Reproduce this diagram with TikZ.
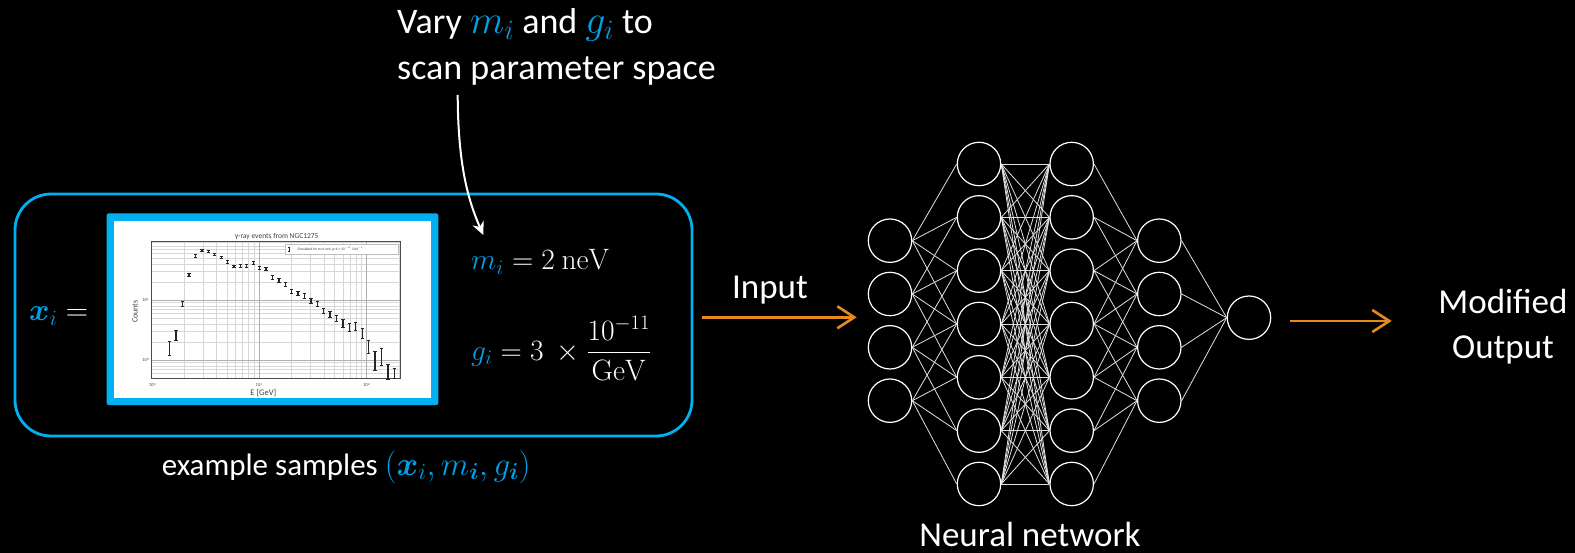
\RequirePackage{fix-cm}
\documentclass[tikz,border=0pt]{standalone}
\usepackage{amsmath}
\usepackage[no-math]{fontspec}
\setmainfont{Carlito}
\usetikzlibrary{arrows.meta}
\definecolor{pblue}{RGB}{0,176,240}
\definecolor{mblue}{RGB}{0,160,230}
\definecolor{porange}{RGB}{232,137,30}
\definecolor{gridminor}{RGB}{215,215,215}
\definecolor{gridmajor}{RGB}{175,175,175}
\begin{document}
\begin{tikzpicture}[x=1pt,y=-1pt,
  txt/.style={text=white, inner sep=0pt},
  big/.style={font=\fontsize{35}{42}\selectfont},
  neuron/.style={circle, draw=white, line width=1.2pt, minimum size=43.4pt, inner sep=0pt},
  syn/.style={draw=white!88!black, line width=0.8pt},
  orarrow/.style={draw=porange, line width=2.6pt, -{Straight Barb[length=17pt,width=22pt]}},
  tiny/.style={text=black!75, inner sep=0pt},
  ebar/.style={draw=black!85, line width=1.2pt},
]
\fill[black] (0,0) rectangle (1575,553);
\useasboundingbox (0,0) rectangle (1575,553);

% sample box
\node[draw=pblue, line width=2.8pt, rounded corners=36pt, minimum width=677pt, minimum height=242pt, inner sep=0pt] (box) at (353.5,315) {};
\node[fill=pblue, rounded corners=2pt, minimum width=331.6pt, minimum height=191.7pt, inner sep=0pt] (plotframe) at (272.5,309.2) {};
\node[fill=white, minimum width=317pt, minimum height=176pt, inner sep=0pt] (plotarea) at (272.5,309.5) {};

% plot
\begin{scope}[shift={(100,205)}, scale=1/3]
  \foreach \d in {0,1,2}{
    \foreach \k in {1,...,9}{
      \pgfmathsetmacro\xx{155+322.5*(\d+log10(\k))}
      \ifdim\xx pt<899pt
        \draw[gridminor, line width=0.5pt] (\xx,110) -- (\xx,520);
      \fi
    }
  }
  \foreach \d in {-1,0,1}{
    \foreach \k in {1,...,9}{
      \pgfmathsetmacro\yy{465-180*(\d+log10(\k))}
      \ifdim\yy pt<520pt \ifdim\yy pt>111pt
        \draw[gridminor, line width=0.5pt] (155,\yy) -- (900,\yy);
      \fi\fi
    }
  }
  \foreach \xx in {478,800} \draw[gridmajor, line width=0.6pt] (\xx,110) -- (\xx,520);
  \foreach \yy in {285,465} \draw[gridmajor, line width=0.6pt] (155,\yy) -- (900,\yy);
  \draw[black!70, line width=0.5pt] (155,110) rectangle (900,520);
  \foreach \x/\y/\h in {208/430/20, 228/392/15, 248/296/8, 267/209/5, 287/153/4, 306/136/3,
      325/140/3, 344/147/3, 364/158/3, 383/170/4, 402/184/4, 421/182/4, 440/183/4, 460/173/4,
      479/188/4, 498/191/4, 517/217/5, 537/226/5, 556/237/6, 575/258/6, 594/265/7, 614/272/7,
      633/287/8, 652/296/8, 671/318/8, 690/327/9, 709/340/10, 729/355/11, 748/367/12, 767/365/12,
      787/385/14, 806/425/20, 825/468/28, 844/455/25, 864/500/22, 883/505/15}{
    \draw[ebar] (\x,{\y-\h}) -- (\x,{\y+\h});
    \draw[ebar, line width=0.9pt] ({\x-5},{\y-\h}) -- ({\x+5},{\y-\h});
    \draw[ebar, line width=0.9pt] ({\x-5},{\y+\h}) -- ({\x+5},{\y+\h});
  }
  \node[tiny, font=\fontsize{7.5}{8}\selectfont] (ptitle) at (530,95) {γ-ray events from NGC1275};
  \node[tiny, font=\fontsize{8}{9}\selectfont, rotate=90] (pylab) at (105,320) {Counts};
  \node[tiny, font=\fontsize{8.5}{9}\selectfont] (pxlab) at (490,565) {E [GeV]};
  \node[tiny, font=\fontsize{4.5}{5}\selectfont] (xt0) at (158,540) {10$^{0}$};
  \node[tiny, font=\fontsize{4.5}{5}\selectfont] (xt1) at (478,540) {10$^{1}$};
  \node[tiny, font=\fontsize{4.5}{5}\selectfont] (xt2) at (800,540) {10$^{2}$};
  \node[tiny, font=\fontsize{4.5}{5}\selectfont] (yt1) at (138,285) {10$^{1}$};
  \node[tiny, font=\fontsize{4.5}{5}\selectfont] (yt0) at (138,465) {10$^{0}$};
  \draw[gray!50, line width=0.4pt, fill=white] (555,118) rectangle (895,147);
  \draw[ebar, line width=0.8pt] (568,126) -- (568,138) (565,126) -- (571,126) (565,138) -- (571,138);
  \node[tiny, anchor=west, font=\fontsize{3.6}{4}\selectfont] (plegend) at (592,132) {Simulated for m=6 neV, g=6 × 10$^{-11}$ GeV$^{-1}$};
\end{scope}

% formulas
\node[txt, anchor=base west, font=\fontsize{31}{36}\selectfont] (xi) at (29,321) {${\color{mblue}\boldsymbol{x}_i} =$};
\node[txt, anchor=base west, font=\fontsize{29.5}{34}\selectfont] (mi) at (471,270) {${\color{mblue}m_i} = 2\ \mathrm{neV}$};
\node[txt, anchor=base west, font=\fontsize{29.5}{34}\selectfont] (gi) at (471,360) {${\color{mblue}g_i} = 3\ \times\dfrac{10^{-11}}{\mathrm{GeV}}$};
\node[txt, anchor=base west, font=\fontsize{31}{36}\selectfont] (ex) at (161.7,475) {example samples {\color{mblue}\fontsize{33}{36}\selectfont$(\boldsymbol{x}_i, m_{\boldsymbol{i}}, g_{\boldsymbol{i}})$}};

% top text and curved arrow
\node[txt, anchor=base west, font=\fontsize{36}{44}\selectfont] (top1) at (397,33.3) {Vary {\fontsize{40}{44}\selectfont$\color{mblue}m_i$} and {\fontsize{40}{44}\selectfont$\color{mblue}g_i$} to};
\node[txt, anchor=base west, font=\fontsize{36}{44}\selectfont] (top2) at (397,80) {scan parameter space};
\coordinate (cs) at (457.7,95);
\coordinate (ce) at (483.3,235);
\draw[white, line width=2pt, -{Stealth[length=13pt,width=12pt]}] (cs) .. controls (458,165) and (468,200) .. (ce);

% network
\foreach \i/\y in {1/240.7,2/294,3/347.3,4/400.7}{
  \node[neuron] (a\i) at (890,\y) {};
  \node[neuron] (d\i) at (1159.3,\y) {};
}
\foreach \i in {1,...,7}{
  \node[neuron] (b\i) at (979,{164+53.33*(\i-1)}) {};
  \node[neuron] (c\i) at (1071.7,{164+53.33*(\i-1)}) {};
}
\node[neuron] (o) at (1249,317.7) {};
\foreach \i in {1,...,4}{
  \foreach \j in {0,...,3}{
    \pgfmathtruncatemacro\k{\i+\j}
    \draw[syn] (a\i.east) -- (b\k.west);
    \draw[syn] (d\i.west) -- (c\k.east);
  }
  \draw[syn] (d\i.east) -- (o.west);
}
\foreach \i in {1,...,7}{
  \foreach \j in {1,...,7}{
    \draw[syn] (b\i.east) -- (c\j.west);
  }
}

% arrows and labels
\coordinate (inS) at (701.7,317.3);
\coordinate (inE) at (856.7,317.3);
\draw[orarrow] (inS) -- (inE);
\node[txt, big, anchor=base] (input) at (770,299) {Input};
\coordinate (outS) at (1290,321);
\coordinate (outE) at (1391.7,321);
\draw[orarrow] (outS) -- (outE);
\node[txt, big, anchor=base] (mo1) at (1503,313.3) {Modified};
\node[txt, big, anchor=base] (mo2) at (1503,358.3) {Output};
\node[txt, big, anchor=base] (nn) at (1030,546.7) {Neural network};
\end{tikzpicture}
\end{document}
